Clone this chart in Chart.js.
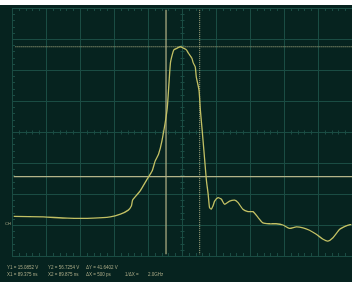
<!DOCTYPE html>
<html>
<head>
    <title>Scope capture</title>
    <script src="https://cdn.jsdelivr.net/npm/chart.js"></script>
    <style>
        body { margin: 0; background: #fff; }
        canvas { display: block; }
    </style>
</head>
<body>
    <canvas id="scope" width="352" height="282"></canvas>
    <script>
        // trace, in screen divisions (x: 0..10, y: -4..4)
        var traceX = [0.05, 0.92, 1.63, 2.39, 2.89, 3.19, 3.42, 3.51, 3.55, 3.77, 3.97, 4.12, 4.21, 4.31, 4.41,
            4.56, 4.61, 4.66, 4.71, 4.76, 4.85, 4.95, 5.05, 5.13, 5.19, 5.29, 5.33, 5.39, 5.42, 5.50, 5.54,
            5.60, 5.62, 5.67, 5.72, 5.77, 5.81, 5.86, 5.91, 5.96, 6.06, 6.16, 6.25, 6.40, 6.55, 6.65, 6.79,
            6.94, 7.09, 7.24, 7.38, 7.58, 7.77, 7.97, 8.16, 8.36, 8.56, 8.75, 8.95, 9.15, 9.29, 9.44, 9.64, 9.83, 9.98];
        var traceY = [-2.72, -2.74, -2.78, -2.78, -2.74, -2.65, -2.52, -2.39, -2.19, -1.90, -1.53, -1.26, -0.94, -0.72, -0.29,
            0.71, 1.46, 2.23, 2.48, 2.65, 2.70, 2.75, 2.70, 2.65, 2.54, 2.38, 2.23, 2.10, 1.78, 1.35, 0.71,
            -0.03, -0.29, -0.94, -1.58, -2.01, -2.44, -2.49, -2.39, -2.23, -2.12, -2.17, -2.33, -2.23, -2.20, -2.28, -2.49,
            -2.57, -2.57, -2.76, -2.93, -2.96, -2.96, -3.00, -3.11, -3.06, -3.09, -3.17, -3.30, -3.46, -3.52, -3.41, -3.14, -3.03, -2.98];

        // cursors
        var cursorY1 = -1.44;   // solid horizontal
        var cursorY2 = 2.75;    // dotted horizontal
        var cursorX1 = 4.53;    // solid vertical
        var cursorX2 = 5.52;    // dotted vertical

        var readoutRow1 = ['Y1 = 15.0852 V', 'Y2 = 56.7254 V', '\u0394Y = 41.6402 V'];
        var readoutRow2 = ['X1 = 89.375 ns', 'X2 = 89.875 ns', '\u0394X = 500 ps', '1/\u0394X =', '2.0GHz'];

        var BG = '#06231f';
        var GRID = '#1a4c43';
        var TRACE = '#c2c064';
        var CURSOR = '#b3b388';

        var tracePoints = traceX.map(function(x, i) { return { x: x, y: traceY[i] }; });

        var scopeGrid = {
            id: 'scopeGrid',
            beforeDraw: function(chart) {
                var c = chart.ctx;
                c.save();
                c.fillStyle = '#ffffff';
                c.fillRect(0, 0, chart.width, 5);
                c.fillStyle = BG;
                c.fillRect(0, 5, chart.width, chart.height - 5);
                c.restore();
            },
            beforeDatasetsDraw: function(chart) {
                var c = chart.ctx;
                var xs = chart.scales.x, ys = chart.scales.y;
                var left = xs.getPixelForValue(0), right = xs.getPixelForValue(10);
                var top = ys.getPixelForValue(4), bottom = ys.getPixelForValue(-4);
                c.save();
                c.strokeStyle = GRID;
                c.lineWidth = 1;
                c.beginPath();
                for (var i = 0; i <= 10; i++) {
                    var px = Math.round(xs.getPixelForValue(i)) + 0.5;
                    c.moveTo(px, top); c.lineTo(px, bottom);
                }
                for (var j = -4; j <= 4; j++) {
                    var py = Math.round(ys.getPixelForValue(j)) + 0.5;
                    c.moveTo(left, py); c.lineTo(right, py);
                }
                c.stroke();

                // minor ticks on border and centre axes
                c.beginPath();
                var cx = Math.round(xs.getPixelForValue(5)) + 0.5;
                var cy = Math.round(ys.getPixelForValue(0)) + 0.5;
                for (var m = 0; m <= 50; m++) {
                    var tx = Math.round(xs.getPixelForValue(m / 5)) + 0.5;
                    c.moveTo(tx, top); c.lineTo(tx, top + 3);
                    c.moveTo(tx, bottom); c.lineTo(tx, bottom - 3);
                    c.moveTo(tx, cy - 2); c.lineTo(tx, cy + 2);
                }
                for (var n = -20; n <= 20; n++) {
                    var ty = Math.round(ys.getPixelForValue(n / 5)) + 0.5;
                    c.moveTo(left, ty); c.lineTo(left + 3, ty);
                    c.moveTo(cx - 2, ty); c.lineTo(cx + 2, ty);
                }
                c.stroke();
                c.restore();
            },
            afterDraw: function(chart) {
                var c = chart.ctx;
                c.save();
                c.fillStyle = '#a9a986';
                c.font = '4.5px "Liberation Sans"';
                c.textBaseline = 'middle';
                var col = [7, 48, 86, 125, 148];
                readoutRow1.forEach(function(t, i) { c.fillText(t, col[i], 268); });
                readoutRow2.forEach(function(t, i) { c.fillText(t, col[i], 274.5); });
                c.font = '4px "Liberation Sans"';
                c.fillText('CH', 5, chart.scales.y.getPixelForValue(-2.97));
                c.restore();
            }
        };

        new Chart(document.getElementById('scope'), {
            type: 'line',
            data: {
                datasets: [
                    {
                        label: 'CH1',
                        data: tracePoints,
                        borderColor: TRACE,
                        borderWidth: 1.3,
                        pointRadius: 0,
                        tension: 0.2
                    },
                    {
                        label: 'cursor Y1',
                        data: [{ x: 0.05, y: cursorY1 }, { x: 10, y: cursorY1 }],
                        borderColor: CURSOR,
                        borderWidth: 1.2,
                        pointRadius: 0
                    },
                    {
                        label: 'cursor Y2',
                        data: [{ x: 0.1, y: cursorY2 }, { x: 10, y: cursorY2 }],
                        borderColor: CURSOR,
                        borderWidth: 1,
                        borderDash: [1, 1],
                        pointRadius: 0
                    },
                    {
                        label: 'cursor X1',
                        data: [{ x: cursorX1, y: 3.94 }, { x: cursorX1, y: -3.94 }],
                        borderColor: CURSOR,
                        borderWidth: 1.2,
                        pointRadius: 0
                    },
                    {
                        label: 'cursor X2',
                        data: [{ x: cursorX2, y: 3.94 }, { x: cursorX2, y: -3.94 }],
                        borderColor: CURSOR,
                        borderWidth: 1,
                        borderDash: [1, 1],
                        pointRadius: 0
                    }
                ]
            },
            options: {
                responsive: false,
                animation: false,
                layout: { padding: { left: 12, right: 0, top: 8, bottom: 26 } },
                scales: {
                    x: { type: 'linear', min: 0, max: 10, display: false },
                    y: { type: 'linear', min: -4, max: 4, display: false }
                },
                plugins: {
                    legend: { display: false },
                    tooltip: { enabled: false }
                }
            },
            plugins: [scopeGrid]
        });
    </script>
</body>
</html>
